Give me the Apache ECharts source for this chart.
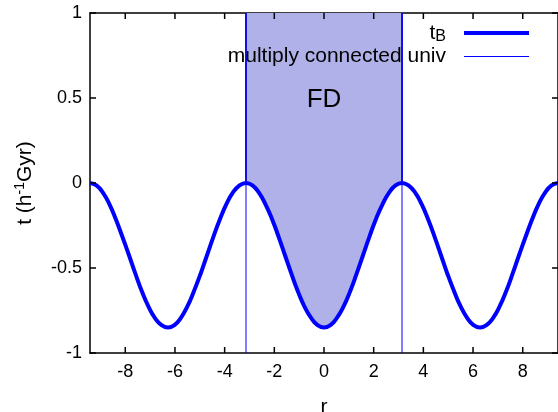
<!DOCTYPE html>
<html>
<head>
<meta charset="utf-8">
<script src="https://cdn.jsdelivr.net/npm/echarts@6/dist/echarts.min.js"></script>
<style>
  html, body { margin: 0; padding: 0; background: #fff; }
  #chart { width: 558px; height: 412px; }
</style>
</head>
<body>
<div id="chart"></div>
<script>
// Radius samples (steps of pi/12 from -3pi to 3pi)
const rValues = [
  -9.42, -9.16, -8.90, -8.64, -8.38, -8.12, -7.85, -7.59, -7.33, -7.07, -6.81, -6.54,
  -6.28, -6.02, -5.76, -5.50, -5.24, -4.97, -4.71, -4.45, -4.19, -3.93, -3.67, -3.40,
  -3.14, -2.88, -2.62, -2.36, -2.09, -1.83, -1.57, -1.31, -1.05, -0.79, -0.52, -0.26,
  0.00, 0.26, 0.52, 0.79, 1.05, 1.31, 1.57, 1.83, 2.09, 2.36, 2.62, 2.88,
  3.14, 3.40, 3.67, 3.93, 4.19, 4.45, 4.71, 4.97, 5.24, 5.50, 5.76, 6.02,
  6.28, 6.54, 6.81, 7.07, 7.33, 7.59, 7.85, 8.12, 8.38, 8.64, 8.90, 9.16,
  9.42
];
// Bang time t_B (h^-1 Gyr) at each radius
const tBValues = [
  0.000, -0.014, -0.057, -0.124, -0.213, -0.315, -0.425, -0.535, -0.638, -0.726, -0.793, -0.836,
  -0.850, -0.836, -0.793, -0.726, -0.638, -0.535, -0.425, -0.315, -0.213, -0.124, -0.057, -0.014,
  0.000, -0.014, -0.057, -0.124, -0.213, -0.315, -0.425, -0.535, -0.638, -0.726, -0.793, -0.836,
  -0.850, -0.836, -0.793, -0.726, -0.638, -0.535, -0.425, -0.315, -0.213, -0.124, -0.057, -0.014,
  0.000, -0.014, -0.057, -0.124, -0.213, -0.315, -0.425, -0.535, -0.638, -0.726, -0.793, -0.836,
  -0.850, -0.836, -0.793, -0.726, -0.638, -0.535, -0.425, -0.315, -0.213, -0.124, -0.057, -0.014,
  0.000
];
// Edges of the fundamental domain (multiply connected universe)
const domainEdges = [-3.14, 3.14];
const tRange = [-1, 1];
const xRange = [-9.42, 9.42];
const xTicks = [-8, -6, -4, -2, 0, 2, 4, 6, 8];
const yTicks = [-1, -0.5, 0, 0.5, 1];
const fdLabel = 'FD';
const fdLabelPos = [0, 0.49];

const curve = rValues.map((r, i) => [r, tBValues[i]]);
const fdCurve = curve.filter(p => p[0] >= domainEdges[0] && p[0] <= domainEdges[1]);

const FONT = '"Liberation Sans", Arial, Helvetica, sans-serif';
const TICK_LEN = 6;
const chart = echarts.init(document.getElementById('chart'), null, { renderer: 'canvas' });

function frameLine() {
  return { show: true, onZero: false, lineStyle: { color: '#000', width: 1.5 } };
}

// Thin vertical lines marking the domain edges (legend entry)
const edgeSeries = domainEdges.map(x => ({
  name: 'multiply connected univ',
  type: 'line',
  data: [[x, tRange[0]], [x, tRange[1]]],
  showSymbol: false,
  symbol: 'none',
  lineStyle: { color: '#0000ff', width: 1 },
  itemStyle: { color: '#0000ff' },
  z: 5,
  silent: true
}));

// Border of the shaded FD region along its two sides
const fdBorderSeries = [fdCurve[0], fdCurve[fdCurve.length - 1]].map(p => ({
  name: 'FD border',
  type: 'line',
  data: [[p[0], p[1]], [p[0], tRange[1]]],
  showSymbol: false,
  symbol: 'none',
  lineStyle: { color: '#2323cf', width: 2 },
  z: 3,
  silent: true
}));

// Inward tick marks on all four sides of the frame (gnuplot style, mirrored)
const tickMarks = xTicks.map(v => [v, 0]).concat(yTicks.map(v => [v, 1]));
const tickSeries = {
  name: 'frame ticks',
  type: 'custom',
  coordinateSystem: 'cartesian2d',
  xAxisIndex: 0,
  yAxisIndex: 0,
  clip: false,
  silent: true,
  z: 6,
  data: tickMarks,
  renderItem: function (params, api) {
    const v = api.value(0);
    const kind = api.value(1);
    const style = { stroke: '#000', lineWidth: 1.5, fill: null };
    let a, b;
    if (kind === 0) {
      a = api.coord([v, tRange[0]]);
      b = api.coord([v, tRange[1]]);
      return { type: 'group', children: [
        { type: 'line', shape: { x1: a[0], y1: a[1], x2: a[0], y2: a[1] - TICK_LEN }, style: style },
        { type: 'line', shape: { x1: b[0], y1: b[1], x2: b[0], y2: b[1] + TICK_LEN }, style: style }
      ] };
    }
    a = api.coord([xRange[0], v]);
    b = api.coord([xRange[1], v]);
    return { type: 'group', children: [
      { type: 'line', shape: { x1: a[0], y1: a[1], x2: a[0] + TICK_LEN, y2: a[1] }, style: style },
      { type: 'line', shape: { x1: b[0], y1: b[1], x2: b[0] - TICK_LEN, y2: b[1] }, style: style }
    ] };
  }
};

chart.setOption({
  animation: false,
  backgroundColor: '#fff',
  textStyle: { fontFamily: FONT },
  grid: { left: 90, right: 0, top: 13, bottom: 59, outerBoundsMode: 'none', containLabel: false },
  legend: {
    data: [
      { name: 'tB', icon: 'path://M0,0 L65,0 L65,4 L0,4 Z' },
      { name: 'multiply connected univ', icon: 'path://M0,0 L65,0 L65,1 L0,1 Z' }
    ],
    orient: 'vertical',
    right: 24,
    top: 16,
    align: 'right',
    itemWidth: 65,
    itemHeight: 12,
    itemGap: 1,
    selectedMode: false,
    formatter: name => name === 'tB' ? '{m|t}{s|B}' : '{n|' + name + '}',
    textStyle: {
      fontFamily: FONT,
      fontSize: 21,
      color: '#000',
      padding: [0, 13, 0, 0],
      rich: {
        m: { fontFamily: FONT, fontSize: 21, lineHeight: 22, color: '#000' },
        s: { fontFamily: FONT, fontSize: 16, lineHeight: 16, color: '#000', padding: [8, 0, 0, 0] },
        n: { fontFamily: FONT, fontSize: 21, lineHeight: 22, color: '#000' }
      }
    }
  },
  xAxis: [{
    type: 'value',
    position: 'bottom',
    min: xRange[0],
    max: xRange[1],
    name: 'r',
    nameLocation: 'middle',
    nameGap: 44,
    nameTextStyle: { fontFamily: FONT, fontSize: 21, color: '#000' },
    axisLine: frameLine(),
    axisTick: { show: false },
    axisLabel: { customValues: xTicks, fontFamily: FONT, fontSize: 18, color: '#000', margin: 10 },
    splitLine: { show: false }
  }, {
    type: 'value',
    position: 'top',
    min: xRange[0],
    max: xRange[1],
    axisLine: frameLine(),
    axisTick: { show: false },
    axisLabel: { show: false },
    splitLine: { show: false }
  }],
  yAxis: [{
    type: 'value',
    position: 'left',
    min: tRange[0],
    max: tRange[1],
    interval: 0.5,
    name: '{a|t (h}{b|-1}{a|Gyr)}',
    nameLocation: 'middle',
    nameRotate: 90,
    nameGap: 53,
    nameTextStyle: {
      rich: {
        a: { fontFamily: FONT, fontSize: 21, color: '#000' },
        b: { fontFamily: FONT, fontSize: 14, color: '#000', padding: [0, 0, 10, 0] }
      }
    },
    axisLine: frameLine(),
    axisTick: { show: false },
    axisLabel: { fontFamily: FONT, fontSize: 18, color: '#000', margin: 8 },
    splitLine: { show: false }
  }, {
    type: 'value',
    position: 'right',
    min: tRange[0],
    max: tRange[1],
    interval: 0.5,
    axisLine: frameLine(),
    axisTick: { show: false },
    axisLabel: { show: false },
    splitLine: { show: false }
  }],
  series: [{
    name: 'FD region',
    type: 'line',
    data: fdCurve,
    smooth: true,
    showSymbol: false,
    symbol: 'none',
    lineStyle: { width: 0 },
    areaStyle: { origin: 'end', color: '#b1b1e9', opacity: 1 },
    z: 1,
    silent: true,
    markPoint: {
      symbol: 'circle',
      symbolSize: 0,
      data: [{ coord: fdLabelPos, value: fdLabel }],
      label: {
        show: true,
        formatter: fdLabel,
        fontFamily: FONT,
        fontSize: 26,
        color: '#000',
        position: 'inside'
      }
    }
  }, {
    name: 'tB',
    type: 'line',
    data: curve,
    smooth: true,
    showSymbol: false,
    symbol: 'none',
    lineStyle: { color: '#0000ff', width: 4 },
    itemStyle: { color: '#0000ff' },
    z: 4,
    silent: true
  }].concat(fdBorderSeries, edgeSeries, [tickSeries])
});
</script>
</body>
</html>
